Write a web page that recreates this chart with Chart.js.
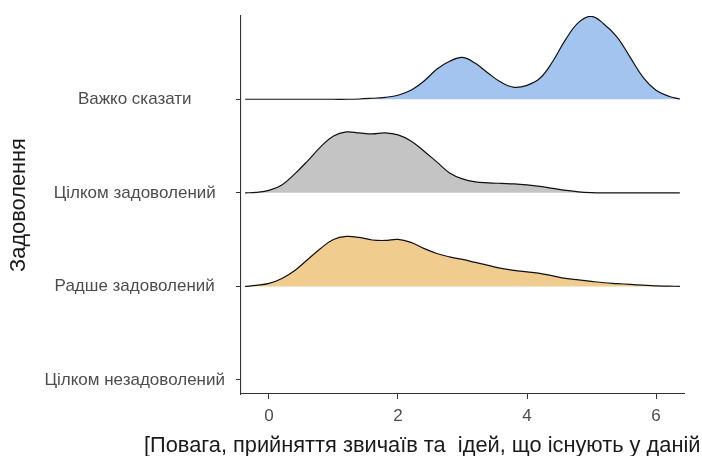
<!DOCTYPE html>
<html><head><meta charset="utf-8">
<script src="https://cdn.jsdelivr.net/npm/chart.js@4"></script>
<style>html,body{margin:0;padding:0;background:#fff}#wrap{width:702px;height:456px}</style>
</head><body><div id="wrap"><canvas id="c" width="702" height="456"></canvas></div>
<script>
const categories = ['Цілком незадоволений', 'Радше задоволений', 'Цілком задоволений', 'Важко сказати'];
const xTicks = [0, 2, 4, 6];
const xGrid = [-0.37, -0.2, 0, 0.2, 0.4, 0.6, 0.8, 1.0, 1.2, 1.4, 1.6, 1.8, 2.0, 2.2, 2.4, 2.6, 2.8, 3.0, 3.2, 3.4, 3.6, 3.8, 4.0, 4.2, 4.4, 4.6, 4.8, 5.0, 5.2, 5.4, 5.6, 5.8, 6.0, 6.2, 6.37];
// ridge heights (in category units) per x in xGrid
const ridgeDifficult = [0, 0, 0, 0, 0, 0, 0, 0, 0, 0.003, 0.011, 0.021, 0.043, 0.096, 0.192, 0.320, 0.406, 0.448, 0.384, 0.277, 0.181, 0.128, 0.149, 0.224, 0.406, 0.640, 0.822, 0.886, 0.800, 0.662, 0.448, 0.235, 0.096, 0.032, 0.003];
const ridgeSatisfied = [0, 0.005, 0.027, 0.085, 0.203, 0.342, 0.491, 0.608, 0.651, 0.640, 0.630, 0.640, 0.619, 0.555, 0.448, 0.331, 0.213, 0.149, 0.117, 0.107, 0.101, 0.096, 0.085, 0.069, 0.048, 0.027, 0.011, 0.003, 0, 0, 0, 0, 0, 0, 0];
const ridgeRather = [0, 0.011, 0.032, 0.085, 0.171, 0.288, 0.406, 0.502, 0.534, 0.523, 0.496, 0.491, 0.502, 0.470, 0.406, 0.352, 0.315, 0.288, 0.256, 0.224, 0.192, 0.171, 0.155, 0.139, 0.112, 0.085, 0.069, 0.053, 0.039, 0.030, 0.021, 0.013, 0.006, 0.003, 0];
const xTitle = '[Повага, прийняття звичаїв та  ідей, що існують у даній';
const yTitle = 'Задоволення';

function ridge(label, base, heights, color) {
  return {
    label: label,
    data: xGrid.map((x, i) => ({ x: x, y: base + heights[i] })),
    borderColor: '#111',
    borderWidth: 1.2,
    backgroundColor: color,
    fill: { value: base },
    pointRadius: 0,
    tension: 0.4
  };
}

const FONT = '"Liberation Sans", Arial, sans-serif';

const xTitlePlugin = {
  id: 'xTitleText',
  afterDraw(chart) {
    const ctx = chart.ctx;
    ctx.save();
    ctx.font = '21.8px ' + FONT;
    ctx.fillStyle = '#1a1a1a';
    ctx.textAlign = 'left';
    ctx.textBaseline = 'alphabetic';
    ctx.fillText(xTitle, 144, 452);
    ctx.restore();
  }
};

function noPad(s) { s.paddingTop = 0; s.paddingBottom = 0; s.paddingLeft = 0; s.paddingRight = 0; }

new Chart(document.getElementById('c'), {
  type: 'line',
  data: {
    datasets: [
      ridge(categories[3], 3, ridgeDifficult, '#a4c4f0'),
      ridge(categories[2], 2, ridgeSatisfied, '#c4c4c4'),
      ridge(categories[1], 1, ridgeRather, '#f0cc8e')
    ]
  },
  options: {
    responsive: false,
    animation: false,
    layout: { padding: { top: 16, right: 18, left: 0, bottom: 0 } },
    plugins: { legend: { display: false }, tooltip: { enabled: false } },
    scales: {
      x: {
        type: 'linear',
        min: -0.434,
        max: 6.434,
        afterBuildTicks: s => { s.ticks = xTicks.map(v => ({ value: v })); },
        afterFit: s => { s.height = 62; noPad(s); },
        grid: { drawOnChartArea: false, drawTicks: true, tickLength: 5, color: '#333', lineWidth: 1 },
        border: { display: true, color: '#333', width: 1.1 },
        ticks: { color: '#4d4d4d', font: { family: FONT, size: 17 }, padding: 7, maxRotation: 0 }
      },
      y: {
        type: 'linear',
        min: -0.15,
        max: 3.89,
        afterBuildTicks: s => { s.ticks = categories.map((c, i) => ({ value: i })); },
        afterFit: s => { s.width = 241; noPad(s); },
        grid: { drawOnChartArea: false, drawTicks: true, tickLength: 5, color: '#333', lineWidth: 1 },
        border: { display: true, color: '#333', width: 1.1 },
        ticks: {
          color: '#4d4d4d', font: { family: FONT, size: 17 }, padding: 11, crossAlign: 'center',
          callback: v => categories[v]
        },
        title: { display: true, text: yTitle, color: '#1a1a1a', font: { family: FONT, size: 21.8 }, padding: { top: 6, bottom: 0 } }
      }
    }
  },
  plugins: [xTitlePlugin]
});
</script>
</body></html>
